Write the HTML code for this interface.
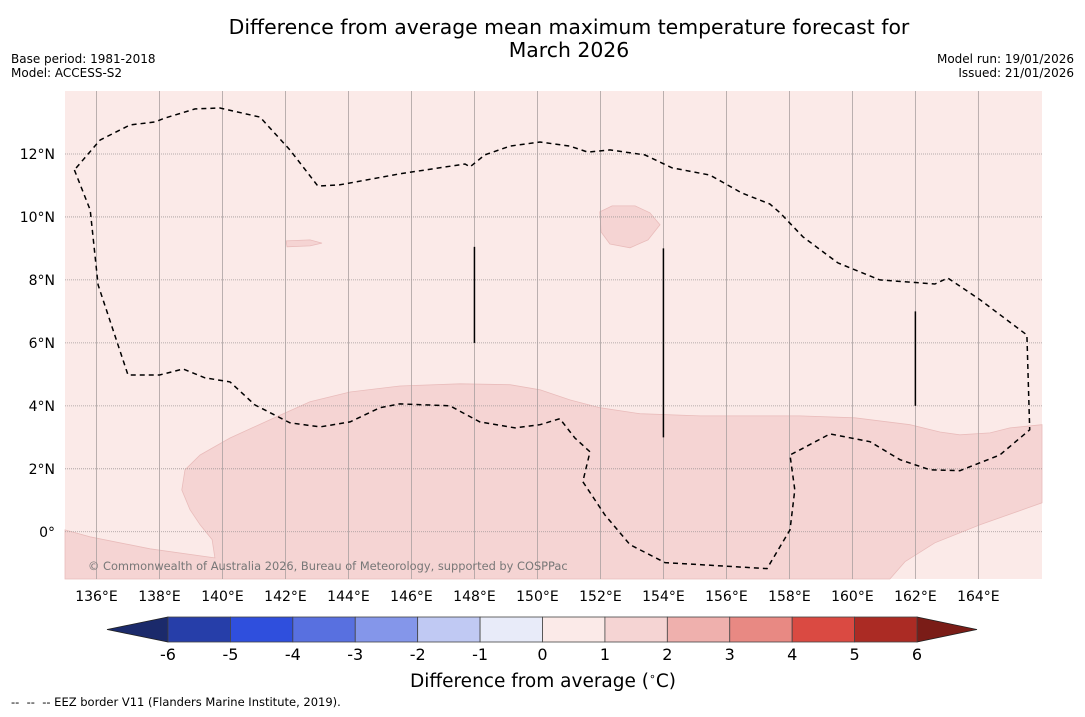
<!DOCTYPE html>
<html><head><meta charset="utf-8"><style>
html,body{margin:0;padding:0;background:#fff;}
body{width:1085px;height:713px;overflow:hidden;font-family:"DejaVu Sans","Liberation Sans",sans-serif;}
svg text{font-family:"DejaVu Sans","Liberation Sans",sans-serif;}
</style></head><body>
<svg id="chart" width="1085" height="713" xmlns="http://www.w3.org/2000/svg">
<text x="569" y="34" font-size="20.4" text-anchor="middle">Difference from average mean maximum temperature forecast for</text>
<text x="569" y="57" font-size="20.4" text-anchor="middle">March 2026</text>
<text x="11" y="63" font-size="12">Base period: 1981-2018</text>
<text x="11" y="77" font-size="12">Model: ACCESS-S2</text>
<text x="1074" y="63" font-size="12" text-anchor="end">Model run: 19/01/2026</text>
<text x="1074" y="77" font-size="12" text-anchor="end">Issued: 21/01/2026</text>
<g id="map"></g>
<g id="cbar"></g>
<text x="543" y="687" font-size="18.5" text-anchor="middle">Difference from average (<tspan font-size="11" dy="-7">∘</tspan><tspan dy="7">C)</tspan></text>
<text x="11" y="706" font-size="11.5" xml:space="preserve">--  --  -- EEZ border V11 (Flanders Marine Institute, 2019).</text>
</svg>
<script>
const lonTicks=[136,138,140,142,144,146,148,150,152,154,156,158,160,162,164];
const latTicks=[0,2,4,6,8,10,12];
const eezLon=[135.3,135.8,136.05,137.0,138.0,138.75,139.44,140.24,141.03,142.14,143.1,144.05,145.0,145.63,147.22,148.17,149.29,150.08,150.71,151.19,151.67,151.44,152.14,152.94,154.05,157.29,158.02,158.17,158.02,158.33,159.29,160.56,161.51,162.46,163.41,164.68,165.63,165.54,164.05,163.03,162.62,160.87,159.54,158.43,157.7,157.38,156.49,155.48,154.27,153.41,152.3,151.6,151.03,150.08,149.13,148.33,147.86,147.7,145.63,143.73,143.03,142.14,141.19,139.92,139.13,138.17,137.86,137.06,136.11,135.3];
const eezLat=[11.49,10.22,7.84,4.98,4.98,5.17,4.89,4.76,4.03,3.46,3.33,3.49,3.94,4.06,4.0,3.49,3.3,3.4,3.59,2.98,2.54,1.59,0.54,-0.41,-0.98,-1.17,0.06,1.33,2.44,2.6,3.11,2.86,2.29,1.97,1.94,2.44,3.24,6.25,7.37,8.06,7.87,8.0,8.54,9.37,10.13,10.41,10.76,11.33,11.56,11.97,12.13,12.06,12.25,12.38,12.25,11.97,11.59,11.68,11.37,11.02,10.98,12.13,13.17,13.46,13.43,13.14,13.02,12.92,12.44,11.49];
const warmLon=[166.02,165.0,164.37,163.41,162.78,161.83,160.08,158.33,155.16,153.25,151.98,151.03,150.08,149.13,147.54,145.63,144.05,142.78,141.51,140.24,139.29,138.81,138.71,138.97,139.29,139.67,139.76,137.7,135.79,135,135,161.19,161.67,162.62,164.05,166.02];
const warmLat=[3.40,3.3,3.14,3.08,3.17,3.40,3.62,3.68,3.68,3.75,3.94,4.19,4.51,4.67,4.70,4.63,4.44,4.13,3.56,2.98,2.44,1.97,1.33,0.70,0.22,-0.25,-0.83,-0.54,-0.16,0.06,-1.5,-1.5,-0.95,-0.35,0.22,0.92];
const blob1Lon=[151.98,152.37,153.1,153.57,153.89,153.51,152.94,152.3,152.02];
const blob1Lat=[10.16,10.35,10.35,10.13,9.75,9.27,9.02,9.14,9.52];
const blob2Lon=[142.02,142.78,143.16,142.78,142.05];
const blob2Lat=[9.24,9.27,9.17,9.08,9.05];
const segLon=[148,154,162];
const segLat0=[9.05,9.0,7.0];
const segLat1=[6.0,3.0,4.0];
const cbLevels=[-6,-5,-4,-3,-2,-1,0,1,2,3,4,5,6];
const cbColors=['#263ea9','#2f4fdd','#5870e0','#8496ea','#c0c9f3','#e8ebf9','#fbeae8','#f5d4d3','#efb0ad','#e88983','#da4a42','#ab2b24'];
const NS='http://www.w3.org/2000/svg';
const L=65,R=1042,T=91,B=579,lon0=135,lon1=166.02,lat0=-1.5,lat1=14;
const X=lon=>L+(lon-lon0)/(lon1-lon0)*(R-L);
const Y=lat=>B-(lat-lat0)/(lat1-lat0)*(B-T);
const map=document.getElementById('map');
function mk(tag,attrs,parent){const e=document.createElementNS(NS,tag);for(const k in attrs)e.setAttribute(k,attrs[k]);(parent||map).appendChild(e);return e;}
function pts(lo,la){return lo.map((v,i)=>X(v).toFixed(1)+','+Y(la[i]).toFixed(1)).join(' ');}
let bg=mk('rect',{x:L,y:T,width:R-L,height:B-T,fill:'#fbeae8'});


let w=mk('polygon',{points:pts(warmLon,warmLat),fill:'#f5d4d3',stroke:'#e9bcbb','stroke-width':0.8});


let b1=mk('polygon',{points:pts(blob1Lon,blob1Lat),fill:'#f5d4d3',stroke:'#e9bcbb','stroke-width':0.8});


let b2=mk('polygon',{points:pts(blob2Lon,blob2Lat),fill:'#f5d4d3',stroke:'#e9bcbb','stroke-width':0.8});


lonTicks.forEach(lo=>{
  let g=mk('line',{x1:X(lo),x2:X(lo),y1:T,y2:B,stroke:'#aaa0a0','stroke-width':0.8});
  
  
  let t=mk('text',{x:X(lo),y:B+22,'font-size':14,'text-anchor':'middle'});
  t.textContent=lo+'°E';
  
  
});
latTicks.forEach(la=>{
  let g=mk('line',{x1:L,x2:R,y1:Y(la),y2:Y(la),stroke:'#a09898','stroke-width':0.8,'stroke-dasharray':'1,1'});
  
  
  let t=mk('text',{x:L-10,y:Y(la)+5,'font-size':14,'text-anchor':'end'});
  t.textContent=la===0?'0°':la+'°N';
  
  
});
let e=mk('polyline',{points:pts(eezLon,eezLat),fill:'none',stroke:'#000','stroke-width':1.5,'stroke-dasharray':'5,4'});


segLon.forEach((lo,i)=>{
  let s=mk('line',{x1:X(lo),x2:X(lo),y1:Y(segLat0[i]),y2:Y(segLat1[i]),stroke:'#000','stroke-width':1.5});
  
  
});
let c=mk('text',{x:88,y:570,'font-size':11.4,fill:'#777'});
c.textContent='© Commonwealth of Australia 2026, Bureau of Meteorology, supported by COSPPac';


const cb=document.getElementById('cbar');
const cx0=168,cx1=917,cy=617,ch=25;
const CX=v=>cx0+(v-cbLevels[0])/(cbLevels[cbLevels.length-1]-cbLevels[0])*(cx1-cx0);
let lt=mk('polygon',{points:`107,${cy+ch/2} ${cx0},${cy} ${cx0},${cy+ch}`,fill:'#1b2a6b',stroke:'#222','stroke-width':0.8},cb);


let rt=mk('polygon',{points:`977,${cy+ch/2} ${cx1},${cy} ${cx1},${cy+ch}`,fill:'#7a1c17',stroke:'#222','stroke-width':0.8},cb);


cbColors.forEach((col,i)=>{
  let r=mk('rect',{x:CX(cbLevels[i]),y:cy,width:CX(cbLevels[i+1])-CX(cbLevels[i]),height:ch,fill:col,stroke:'#444','stroke-width':0.8},cb);
  
  
});
cbLevels.forEach(v=>{
  let t=mk('text',{x:CX(v),y:cy+ch+18,'font-size':16,'text-anchor':'middle'},cb);
  t.textContent=String(v);
  
  
});
</script>
</body></html>
